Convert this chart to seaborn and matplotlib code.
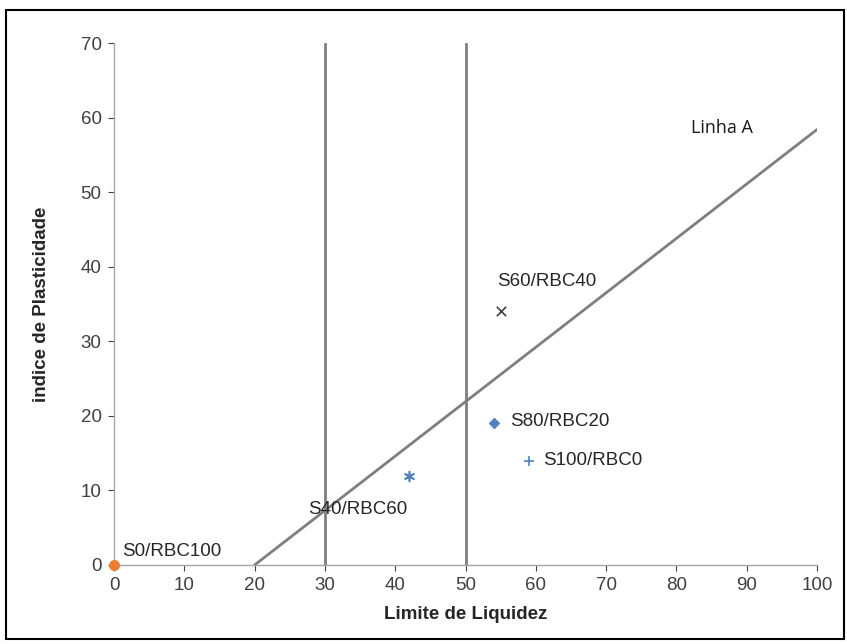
import matplotlib
matplotlib.use("Agg")
import matplotlib.pyplot as plt
import seaborn as sns
import pandas as pd
from matplotlib.patches import Rectangle

# sample points (liquid limit, plasticity index)
samples = ["S0/RBC100", "S40/RBC60", "S60/RBC40", "S80/RBC20", "S100/RBC0"]
ll = [0, 42, 55, 54, 59]
ip = [0, 12, 34, 19, 14]
markers = ["o", (6, 2, 0), "x", "D", "+"]
colors = ["#ed7d31", "#4f81bd", "#404040", "#4f81bd", "#4f81bd"]
sizes = [55, 50, 45, 30, 50]

# label positions for each sample
label_x = [1.2, 34.6, 61.5, 56.3, 61.0]
label_y = [1.8, 7.5, 38.0, 19.3, 14.0]
label_ha = ["left", "center", "center", "left", "left"]

# Linha A: IP = 0.73 (LL - 20)
linha_ll = [20, 100]
linha_ip = [0.73 * (v - 20) for v in linha_ll]
limits = [30, 50]

sns.set_style("white")
plt.rcParams["font.family"] = ["Liberation Sans", "DejaVu Sans"]

fig = plt.figure(figsize=(8.47, 6.44), dpi=100)
ax = fig.add_axes([0.1346, 0.1227, 0.830, 0.8105])

for x in limits:
    ax.plot([x, x], [0, 70], color="#7f7f7f", lw=2, zorder=1)
sns.lineplot(x=linha_ll, y=linha_ip, ax=ax, color="#7f7f7f", lw=2, zorder=1)

df = pd.DataFrame({"ll": ll, "ip": ip, "amostra": samples})
for i, row in df.iterrows():
    lw = 0.5 if markers[i] in ("o", "D") else 1.2
    sns.scatterplot(x=[row["ll"]], y=[row["ip"]], ax=ax, marker=markers[i],
                    color=colors[i], s=sizes[i], linewidth=lw,
                    edgecolor=colors[i], zorder=3, clip_on=False)
    ax.text(label_x[i], label_y[i], row["amostra"], ha=label_ha[i], va="center",
            fontsize=13.5, color="#262626")

ax.text(86.5, 58.6, "Linha A", family=["Open Sans", "DejaVu Sans"], fontsize=13,
        color="#1a1a1a", ha="center", va="center")

ax.set_xlim(0, 100)
ax.set_ylim(0, 70)
ax.set_xticks(range(0, 101, 10))
ax.set_yticks(range(0, 71, 10))
ax.tick_params(labelsize=13.5, colors="#404040", length=4, width=0.8,
               direction="out", left=True, bottom=True, pad=5)
for s in ["top", "right"]:
    ax.spines[s].set_visible(False)
for s in ["left", "bottom"]:
    ax.spines[s].set_color("#a6a6a6")
    ax.spines[s].set_linewidth(1)

ax.set_xlabel("Limite de Liquidez", fontsize=13.5, fontweight="bold", labelpad=8)
ax.set_ylabel("indice de Plasticidade", fontsize=13.5, fontweight="bold", labelpad=22)

fig.patches.append(Rectangle((0.007, 0.008), 0.99, 0.977, transform=fig.transFigure,
                             fill=False, edgecolor="black", lw=1.5))

fig.savefig("out.png", dpi=100)
